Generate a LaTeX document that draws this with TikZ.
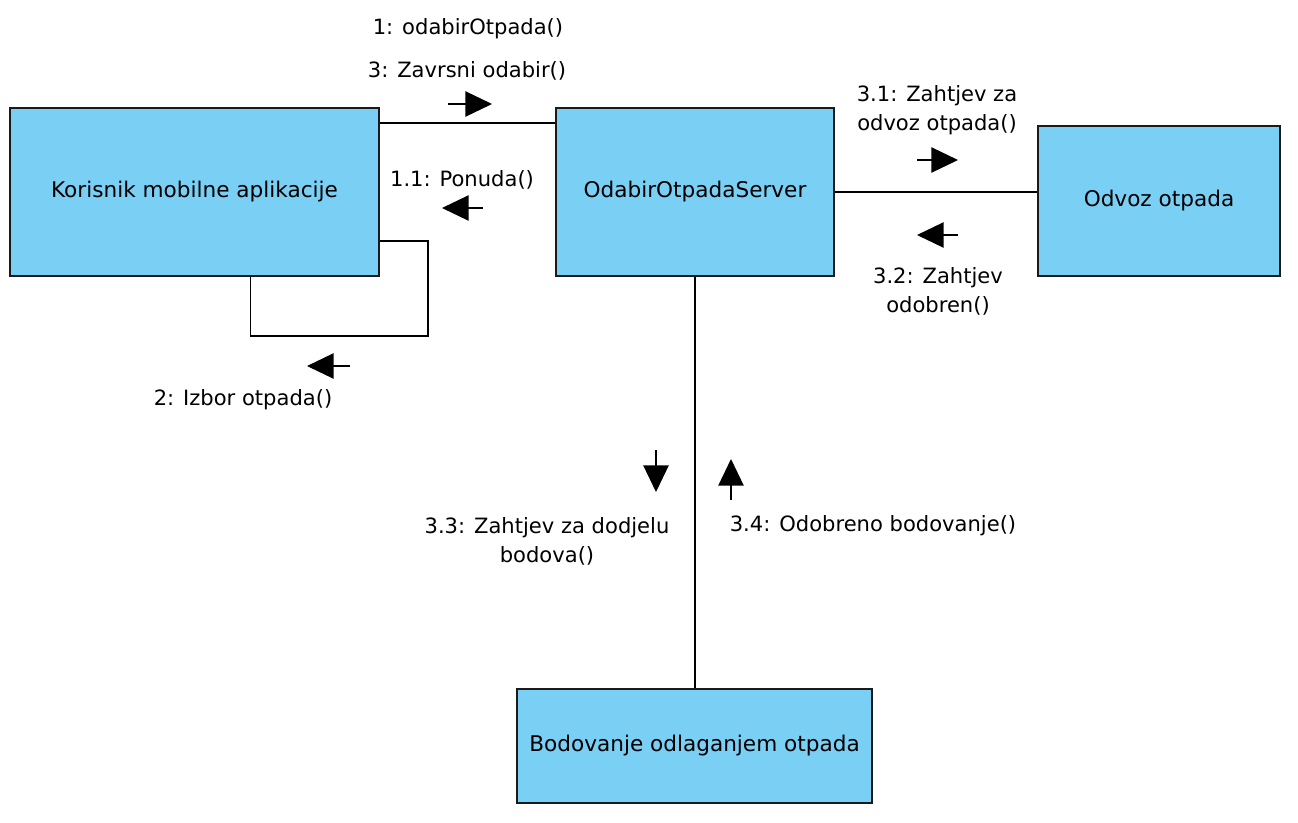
\documentclass[tikz,border=0pt]{standalone}
\usepackage{fontspec}
\setmainfont{DejaVu Sans}
\usetikzlibrary{calc,positioning,arrows.meta}
\definecolor{boxblue}{HTML}{7ACFF5}
\definecolor{boxline}{HTML}{1A1A1A}

\tikzset{
  objekt/.style={draw=boxline, fill=boxblue, line width=1.2pt, inner sep=0pt,
    font=\fontsize{16.2}{19}\selectfont},
  veza/.style={line width=1.1pt},
  poruka/.style={line width=1.1pt, -{Triangle[length=20pt,width=19pt]}},
  oznaka/.style={font=\fontsize{15.8}{21.75}\selectfont, align=center},
}

\begin{document}
\begin{tikzpicture}[x=0.75pt, y=-0.75pt]

% === Dimenzije ===
\useasboundingbox (0,0) rectangle (1298,822);

% === Objekti ===
\node[objekt, minimum width=276.75pt, minimum height=126pt] (korisnik)
  at (194.5,192) {Korisnik mobilne aplikacije};
\node[objekt, minimum width=208.5pt, minimum height=126pt] (server)
  at (695,192) {OdabirOtpadaServer};
\node[objekt, minimum width=181.5pt, minimum height=112.5pt] (odvoz)
  at (1159,201) {Odvoz otpada};
\node[objekt, minimum width=266.25pt, minimum height=85.5pt] (bodovanje)
  at (694.5,746) {Bodovanje odlaganjem otpada};

% === Veze ===
\draw[veza] ($(korisnik.north east)+(0,16)$) -- ($(server.north west)+(0,16)$);
\draw[veza] (server.east) -- (server.east -| odvoz.west);
\draw[veza] (server.south) -- (server.south |- bodovanje.north);

% Petlja na korisniku
\draw[veza] ($(korisnik.south east)+(0,-36)$) -- ++(48,0)
  |- ($(korisnik.south)+(56,59)$) -- ($(korisnik.south)+(56,0)$);

% === Poruke (strelice) ===
\coordinate (p1a) at (448,104);  \coordinate (p1b) at (492,104);
\coordinate (p11a) at (483,208); \coordinate (p11b) at (442,208);
\coordinate (p2a) at (350,366);  \coordinate (p2b) at (307,366);
\coordinate (p31a) at (917,160); \coordinate (p31b) at (958,160);
\coordinate (p32a) at (958,235); \coordinate (p32b) at (917,235);
\coordinate (p33a) at (656,450); \coordinate (p33b) at (656,492);
\coordinate (p34a) at (731,500); \coordinate (p34b) at (731,459);

\draw[poruka] (p1a) -- (p1b);
\draw[poruka] (p11a) -- (p11b);
\draw[poruka] (p2a) -- (p2b);
\draw[poruka] (p31a) -- (p31b);
\draw[poruka] (p32a) -- (p32b);
\draw[poruka] (p33a) -- (p33b);
\draw[poruka] (p34a) -- (p34b);

% === Oznake poruka ===
\node[oznaka] (t1) at (468,29) {1: odabirOtpada()};
\node[oznaka] (t3) at (467,71) {3: Zavrsni odabir()};
\node[oznaka] (t11) at (462,180) {1.1: Ponuda()};
\node[oznaka] (t2) at (243,400) {2: Izbor otpada()};
\node[oznaka] (t31) at (937,110) {3.1: Zahtjev za\\odvoz otpada()};
\node[oznaka] (t32) at (938,291) {3.2: Zahtjev\\odobren()};
\node[oznaka] (t33) at (547,541) {3.3: Zahtjev za dodjelu\\bodova()};
\node[oznaka] (t34) at (873,526) {3.4: Odobreno bodovanje()};

\end{tikzpicture}
\end{document}
